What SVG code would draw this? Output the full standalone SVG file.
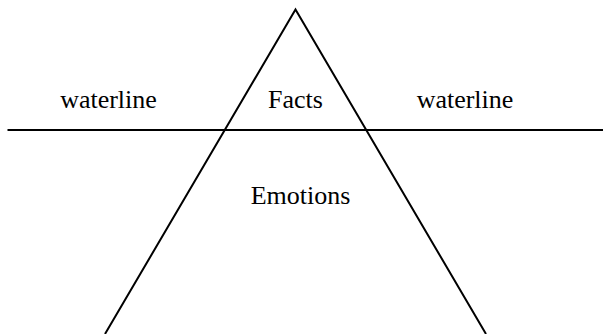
<svg xmlns="http://www.w3.org/2000/svg" width="603" height="334" viewBox="0 0 603 334">
<style>
.ln{stroke:#000;stroke-width:2;fill:none}
.t{font-family:"Liberation Serif","Times New Roman",serif;font-size:26px;fill:#000;text-anchor:middle}
</style>
<rect width="603" height="334" fill="#fff"/>
<g id="connectors">
<path class="ln" d="M105,334 L295.5,9.5 L486,334"/>
<path class="ln" d="M7.5,130 L603,130"/>
</g>
<g id="waterline-left"><text class="t" x="108.5" y="108">waterline</text></g>
<g id="facts"><text class="t" x="295.5" y="108">Facts</text></g>
<g id="waterline-right"><text class="t" x="465" y="108">waterline</text></g>
<g id="emotions"><text class="t" x="300.5" y="204">Emotions</text></g>
</svg>
